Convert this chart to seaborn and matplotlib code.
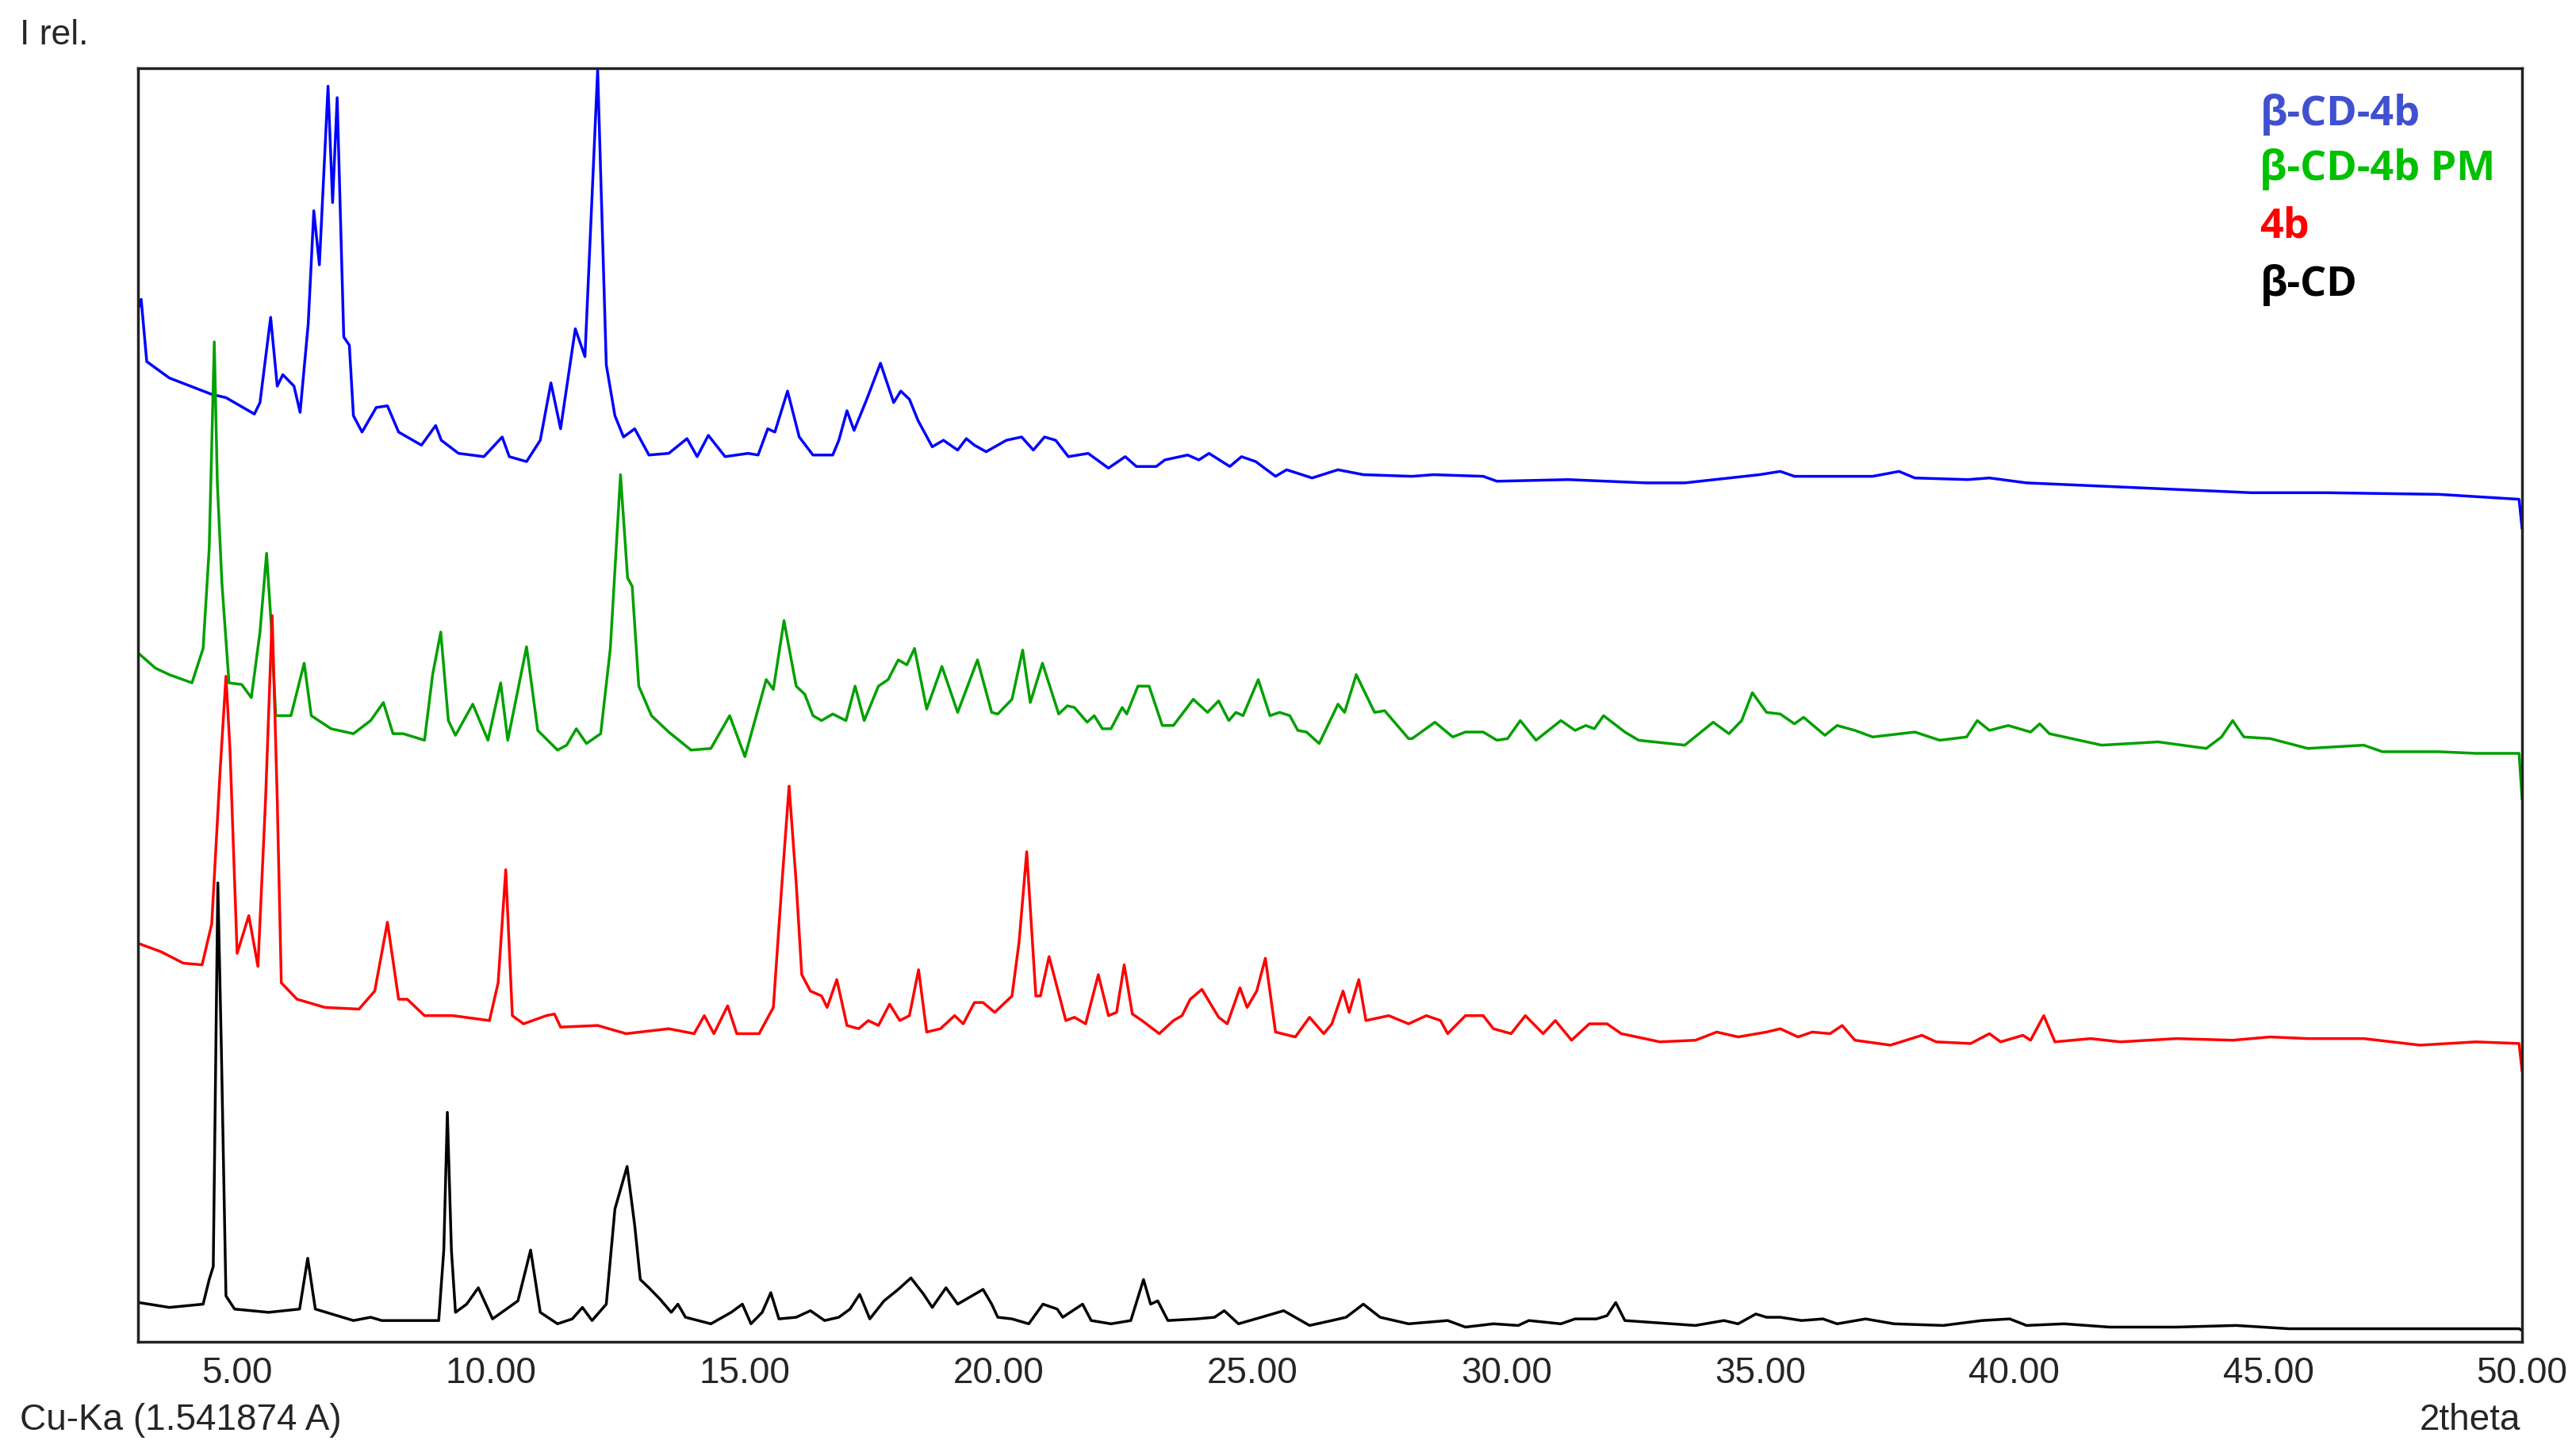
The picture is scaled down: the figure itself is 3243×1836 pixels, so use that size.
import numpy as np
import pandas as pd
import matplotlib
matplotlib.use("Agg")
import matplotlib.pyplot as plt
import seaborn as sns
from matplotlib.ticker import FormatStrFormatter

# Powder XRD patterns, stacked as displayed (y in display units)
beta_cd_4b_x = [3.06, 3.11, 3.22, 3.665, 4.50, 4.78, 5.34, 5.45, 5.66, 5.79, 5.90, 6.12, 6.24, 6.40, 6.51,
                6.62, 6.79, 6.88, 6.97, 7.10, 7.21, 7.29, 7.46, 7.74, 7.96, 8.18, 8.63, 8.91, 9.02, 9.36,
                9.86, 10.22, 10.36, 10.70, 10.97, 11.18, 11.37, 11.66, 11.85, 12.10, 12.27, 12.44, 12.61,
                12.83, 13.11, 13.50, 13.86, 14.06, 14.28, 14.61, 15.06, 15.26, 15.45, 15.59, 15.84, 16.07,
                16.34, 16.73, 16.85, 17.01, 17.15, 17.40, 17.67, 17.93, 18.07, 18.24, 18.41, 18.69, 18.91,
                19.19, 19.36, 19.52, 19.75, 20.15, 20.45, 20.68, 20.90, 21.12, 21.37, 21.76, 22.16, 22.49,
                22.71, 23.10, 23.27, 23.72, 23.94, 24.14, 24.55, 24.78, 25.06, 25.45, 25.67, 26.17, 26.68,
                27.18, 28.14, 28.56, 29.54, 29.81, 31.21, 32.74, 33.51, 34.98, 35.39, 35.67, 36.51, 37.21,
                37.73, 38.04, 39.08, 39.51, 40.24, 41.72, 44.67, 46.14, 48.36, 49.94, 50.0]
beta_cd_4b_y = [631, 636, 598, 588, 578, 576, 566, 573, 625, 583, 590, 583, 567, 621, 690,
                657, 766, 695, 759, 613, 608, 565, 555, 570, 571, 555, 547, 559, 550, 542,
                540, 552, 540, 537, 550, 585, 557, 618, 601, 776, 596, 565, 552,
                557, 541, 542, 551, 540, 553, 540, 542, 541, 557, 555, 580, 552,
                541, 541, 550, 568, 556, 575, 597, 573, 580, 575, 562, 546, 550,
                544, 551, 547, 543, 550, 552, 544, 552, 550, 540, 542, 533, 540,
                534, 534, 538, 541, 538, 542, 534, 540, 537, 528, 532, 527, 532,
                529, 528, 529, 528, 525, 526, 524, 524, 529, 531, 528, 528, 528,
                531, 527, 526, 527, 524, 522, 518, 518, 517, 514, 496]

beta_cd_4b_pm_x = [3.06, 3.39, 3.665, 4.11, 4.33, 4.45, 4.55, 4.61, 4.70, 4.84, 5.09, 5.28, 5.45, 5.58,
                   5.67, 5.76, 6.06, 6.32, 6.46, 6.85, 7.29, 7.63, 7.88, 8.07, 8.27, 8.69, 8.85, 9.01,
                   9.16, 9.30, 9.64, 9.94, 10.19, 10.33, 10.70, 10.92, 11.31, 11.49, 11.68, 11.88, 12.16,
                   12.35, 12.55, 12.69, 12.78, 12.91, 13.16, 13.50, 13.94, 14.33, 14.70, 15.00, 15.42,
                   15.56, 15.77, 16.01, 16.18, 16.34, 16.51, 16.73, 16.99, 17.17, 17.35, 17.63, 17.82,
                   18.02, 18.19, 18.34, 18.58, 18.88, 19.19, 19.58, 19.86, 19.98, 20.26, 20.47, 20.62,
                   20.86, 21.18, 21.35, 21.49, 21.74, 21.88, 22.04, 22.21, 22.43, 22.52, 22.74, 22.96,
                   23.22, 23.44, 23.83, 24.11, 24.33, 24.53, 24.67, 24.81, 25.11, 25.34, 25.53, 25.73,
                   25.89, 26.06, 26.31, 26.68, 26.81, 27.04, 27.40, 27.60, 28.07, 28.14, 28.59, 28.94,
                   29.19, 29.54, 29.81, 30.02, 30.27, 30.58, 31.07, 31.35, 31.56, 31.73, 31.91, 32.33,
                   32.60, 33.51, 34.07, 34.38, 34.63, 34.84, 35.12, 35.39, 35.67, 35.85, 36.27, 36.51,
                   36.86, 37.21, 38.04, 38.53, 39.06, 39.27, 39.51, 39.88, 40.32, 40.50, 40.69, 41.72,
                   42.83, 43.78, 44.08, 44.30, 44.52, 45.04, 45.78, 46.88, 47.25, 48.36, 49.09, 49.94, 50.0]
beta_cd_4b_pm_y = [420, 411, 407, 402, 423, 484, 610, 524, 463, 402, 401, 393, 433, 481,
                   438, 382, 382, 414, 382, 374, 371, 379, 390, 371, 371, 367, 407, 433,
                   379, 370, 389, 367, 402, 367, 424, 373, 361, 364, 374, 365, 371,
                   423, 529, 466, 461, 400, 382, 372, 361, 362, 382, 357, 404,
                   398, 440, 400, 395, 382, 379, 383, 379, 400, 379, 400, 404,
                   416, 413, 423, 386, 412, 384, 416, 384, 383, 392, 422, 390,
                   414, 383, 388, 387, 378, 382, 374, 374, 387, 383, 400, 400,
                   376, 376, 392, 384, 391, 379, 384, 382, 404, 382, 384, 382,
                   373, 372, 365, 389, 384, 407, 384, 385, 368, 368, 378, 369,
                   372, 372, 367, 368, 379, 367, 379, 373, 376, 374, 382, 372,
                   367, 364, 378, 371, 379, 396, 384, 383, 377, 381, 370, 376,
                   373, 369, 372, 367, 369, 379, 373, 376, 372, 377, 371, 364,
                   366, 362, 369, 379, 369, 368, 362, 364, 360, 360, 359, 359, 331]

cmpd_4b_x = [3.06, 3.50, 3.94, 4.31, 4.50, 4.67, 4.78, 4.86, 5.00, 5.23, 5.41, 5.56, 5.69, 5.79, 5.87,
             6.18, 6.73, 7.40, 7.71, 7.96, 8.18, 8.35, 8.69, 9.25, 9.97, 10.14, 10.29, 10.42, 10.64,
             11.09, 11.25, 11.37, 12.10, 12.66, 13.50, 14.00, 14.20, 14.39, 14.66, 14.84, 15.28, 15.56,
             15.73, 15.87, 16.01, 16.12, 16.29, 16.51, 16.62, 16.81, 17.01, 17.24, 17.43, 17.63, 17.85,
             18.05, 18.24, 18.42, 18.58, 18.85, 19.13, 19.30, 19.52, 19.69, 19.92, 20.26, 20.40, 20.55,
             20.73, 20.82, 20.99, 21.32, 21.49, 21.71, 21.96, 22.16, 22.32, 22.47, 22.63, 22.82, 23.16,
             23.44, 23.61, 23.77, 24.00, 24.33, 24.50, 24.75, 24.89, 25.08, 25.25, 25.45, 25.84, 26.12,
             26.40, 26.56, 26.78, 26.90, 27.09, 27.23, 27.68, 28.07, 28.42, 28.70, 28.84, 29.19, 29.54,
             29.74, 30.09, 30.37, 30.72, 30.96, 31.28, 31.63, 31.98, 32.26, 33.02, 33.72, 34.14, 34.56,
             35.12, 35.39, 35.74, 36.02, 36.37, 36.61, 36.86, 37.56, 38.18, 38.46, 39.14, 39.51, 39.73,
             40.17, 40.32, 40.58, 40.80, 41.50, 42.09, 43.19, 44.30, 45.04, 45.78, 46.88, 47.99, 49.09,
             49.94, 50.0]
cmpd_4b_y = [243, 238, 231, 230, 255, 351, 406, 361, 237, 260, 229, 331, 443, 331, 219,
             209, 204, 203, 214, 256, 209, 209, 199, 199, 196, 219, 288, 199, 194,
             199, 200, 192, 193, 188, 191, 188, 199, 188, 205, 188, 188, 204,
             280, 339, 280, 224, 214, 211, 204, 221, 193, 191, 196, 193, 206,
             196, 199, 227, 189, 191, 199, 194, 207, 207, 201, 211, 244, 299,
             211, 211, 235, 196, 198, 194, 224, 199, 201, 230, 200, 196, 188,
             196, 199, 209, 215, 198, 194, 216, 204, 214, 234, 189, 186, 198,
             188, 194, 214, 201, 221, 196, 199, 194, 199, 196, 188, 199, 199,
             191, 188, 199, 188, 196, 184, 194, 194, 188, 183, 184, 189, 186,
             189, 191, 186, 189, 188, 193, 184, 181, 187, 183, 182, 188, 183,
             187, 184, 199, 183, 185, 183, 185, 184, 186, 185, 185, 181, 183,
             182, 165]

beta_cd_x = [3.06, 3.665, 4.33, 4.45, 4.53, 4.62, 4.69, 4.78, 4.95, 5.62, 6.23, 6.39, 6.54, 7.29, 7.63,
             7.85, 8.97, 9.07, 9.14, 9.22, 9.30, 9.52, 9.75, 10.03, 10.53, 10.78, 10.97, 11.31, 11.60,
             11.80, 11.99, 12.27, 12.44, 12.68, 12.83, 12.94, 13.11, 13.33, 13.55, 13.68, 13.83, 14.33,
             14.73, 14.95, 15.12, 15.34, 15.51, 15.67, 16.01, 16.29, 16.57, 16.85, 17.07, 17.26, 17.46,
             17.74, 18.02, 18.27, 18.52, 18.69, 18.96, 19.19, 19.69, 19.86, 19.98, 20.26, 20.59, 20.87,
             21.15, 21.26, 21.65, 21.82, 22.21, 22.60, 22.85, 22.99, 23.13, 23.33, 23.89, 24.25, 24.44,
             24.72, 25.17, 25.61, 26.12, 26.56, 26.84, 27.18, 27.51, 28.07, 28.84, 29.19, 29.74, 30.23,
             30.44, 31.07, 31.35, 31.77, 31.98, 32.15, 32.33, 33.72, 34.28, 34.56, 34.91, 35.12, 35.39,
             35.81, 36.23, 36.51, 37.07, 37.63, 38.60, 39.36, 39.91, 40.24, 40.98, 41.87, 43.19, 44.37,
             45.41, 46.88, 48.36, 49.94, 50.0]
beta_cd_y = [24, 21, 23, 38, 46, 280, 178, 28, 20, 18, 20, 51, 20, 13, 15,
             13, 13, 56, 140, 56, 18, 23, 33, 14, 25, 56, 18, 11, 14,
             21, 13, 23, 81, 107, 71, 38, 33, 26, 18, 23, 15, 11,
             18, 23, 11, 18, 30, 14, 15, 19, 13, 15, 20, 29, 14,
             25, 32, 39, 29, 21, 33, 23, 32, 23, 15, 14, 11, 23,
             20, 15, 23, 13, 11, 13, 38, 23, 25, 13, 14, 15, 19,
             11, 15, 19, 10, 13, 15, 23, 15, 11, 13, 9, 11, 10,
             13, 11, 14, 14, 16, 24, 13, 10, 13, 11, 17, 15, 15,
             13, 14, 11, 14, 11, 10, 13, 14, 10, 11, 9, 9, 10,
             8, 8, 8, 8, 7]

sample_names = ["β-CD-4b", "β-CD-4b PM", "4b", "β-CD"]
line_colors = ["#0000FF", "#00A000", "#FF0000", "#000000"]
label_colors = ["#4050D0", "#00C000", "#FF0000", "#000000"]
xticks = [5, 10, 15, 20, 25, 30, 35, 40, 45, 50]

series = [(beta_cd_4b_x, beta_cd_4b_y), (beta_cd_4b_pm_x, beta_cd_4b_pm_y),
          (cmpd_4b_x, cmpd_4b_y), (beta_cd_x, beta_cd_y)]
frames = []
for name, (xs, ys) in zip(sample_names, series):
    frames.append(pd.DataFrame({"two_theta": xs, "intensity": ys, "sample": name}))
df = pd.concat(frames, ignore_index=True)

sns.set_style("white")
plt.rcParams["font.family"] = ["Liberation Sans", "DejaVu Sans"]

fig = plt.figure(figsize=(32.43, 18.36), dpi=100)
ax = fig.add_axes([0.0537, 0.0784, 0.9269, 0.8748])

for name, color in zip(sample_names, line_colors):
    sns.lineplot(data=df[df["sample"] == name], x="two_theta", y="intensity", color=color,
                 sort=False, estimator=None, linewidth=2.5, ax=ax)
for line in ax.get_lines():
    line.set_solid_joinstyle("round")

ax.set_xlim(3.05, 50)
ax.set_ylim(0, 777)
ax.set_xticks(xticks)
ax.xaxis.set_major_formatter(FormatStrFormatter("%.2f"))
ax.set_yticks([])
ax.set_xlabel("")
ax.set_ylabel("")
ax.tick_params(axis="x", direction="out", length=9, width=2, pad=4, labelsize=33, color="#222222")
for sp in ax.spines.values():
    sp.set_visible(True)
    sp.set_color("#222222")
    sp.set_linewidth(2.5)

# legend drawn as coloured labels
label_y = [0.955, 0.912, 0.867, 0.821]
for name, color, yy in zip(sample_names, label_colors, label_y):
    ax.text(0.890, yy, name, transform=ax.transAxes, color=color, fontsize=37.5,
            fontweight="bold", family=["Open Sans", "DejaVu Sans"], va="baseline", ha="left")

fig.text(0.0077, 0.9755, "I rel.", fontsize=32, va="center", ha="left")
fig.text(0.0077, 0.0245, "Cu-Ka (1.541874 A)", fontsize=33, va="center", ha="left")
fig.text(0.980, 0.0245, "2theta", fontsize=33, va="center", ha="right")

fig.savefig("out.png", dpi=100)
